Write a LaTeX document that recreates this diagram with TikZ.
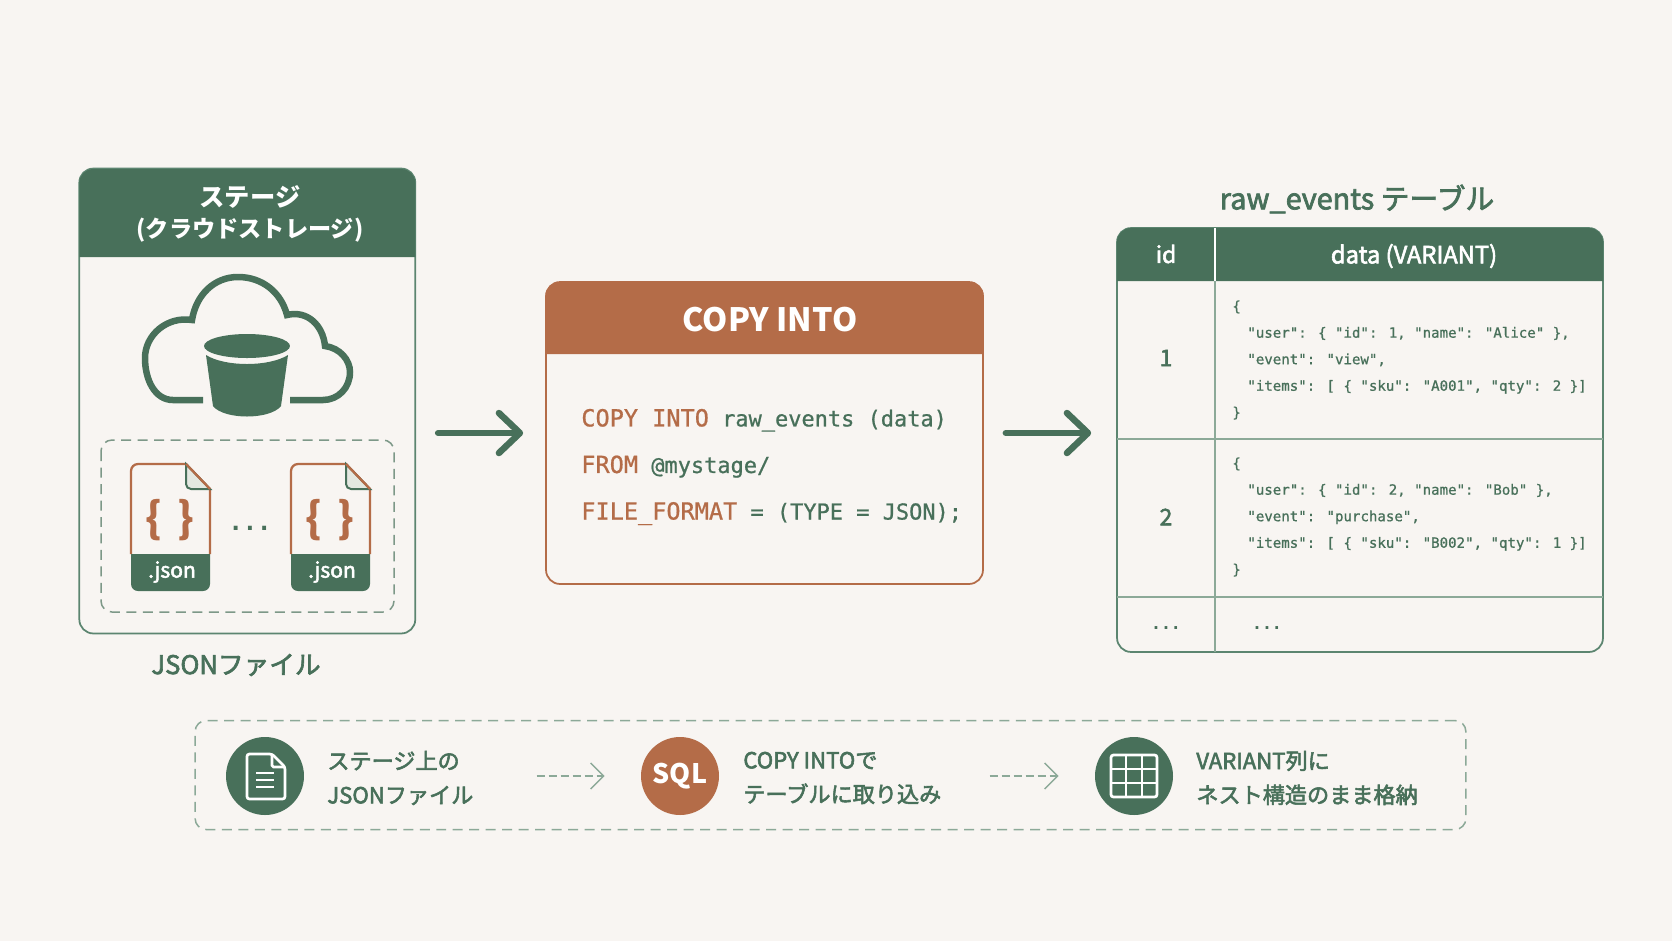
\documentclass[tikz,border=0pt]{standalone}
\usepackage{fontspec}
\setmainfont{Noto Sans CJK JP}
\setmonofont{DejaVu Sans Mono}
\newfontfamily\medfont[FakeBold=2.5]{Noto Sans CJK JP}
\newfontfamily\codefont[FakeBold=0.8]{DejaVu Sans Mono}
\usetikzlibrary{arrows.meta}
\definecolor{paper}{HTML}{F8F5F2}
\definecolor{leaf}{HTML}{48705A}
\definecolor{leafline}{HTML}{5C8570}
\definecolor{leafsoft}{HTML}{8CA998}
\definecolor{clay}{HTML}{B46C48}
\definecolor{foldgrey}{HTML}{E4E8E1}
\tikzset{
  panel/.style={draw=#1,line width=0.035cm,rounded corners=0.28cm,inner sep=0pt},
  bigarrow/.style={draw=leaf,line width=0.13cm,line cap=round,-{Straight Barb[round,length=0.42cm,width=0.8cm]},shorten <=0.44cm,shorten >=#1},
  steparrow/.style={draw=leafsoft,line width=0.03cm,dash pattern=on 0.16cm off 0.08cm,-{Straight Barb[length=0.26cm,width=0.52cm]}},
  stepdisc/.style={circle,fill=#1,minimum size=1.56cm,inner sep=0pt},
  steptext/.style={anchor=west,inner sep=0pt,align=left,text=leaf,font=\medfont\fontsize{12.6}{19.4}\selectfont},
  headtext/.style={inner sep=0pt,text=white,font=\bfseries\fontsize{#1}{#1}\selectfont},
  headmed/.style={inner sep=0pt,text=white,font=\medfont\fontsize{#1}{#1}\selectfont},
  celltext/.style={inner sep=0pt,text=leaf,font=\medfont\fontsize{13}{13}\selectfont},
  jsontext/.style={anchor=west,inner sep=0pt,align=left,text=leaf,font=\codefont\fontsize{8.02}{15.1}\selectfont},
  dotstext/.style={inner sep=0pt,text=leaf,font=\ttfamily\bfseries\fontsize{#1}{#1}\selectfont},
  whiteline/.style={draw=white,line width=0.055cm},
}
\newcommand{\jsonin}{\hspace*{0.3cm}}
\newcommand{\kw}[1]{{\color{clay}\fontsize{13.4}{26.5}\selectfont #1}}
\begin{document}
\begin{tikzpicture}[x=0.02cm,y=-0.02cm]

    \fill[paper] (0,0) rectangle (1672,941);
    \useasboundingbox (0,0) rectangle (1672,941);

    % --------------------------------------------------------- %
    % ------------- stage panel
    % --------------------------------------------------------- %
    \node[panel=leafline,minimum width=6.72cm,minimum height=9.3cm] (stage) at (247.3,401) {};
    \fill[leaf] (79.3,257) [rounded corners=0.28cm] -- (79.3,169) -- (415.3,169) [sharp corners] -- (415.3,257) -- cycle;
    \node[headtext=14.4] (stagetitle) at (250,197) {ステージ};
    \node[headtext=13.2] (stagesub) at (250,230) {(クラウドストレージ)};
    % --- cloud and bucket
    \draw[leaf,line width=0.13cm] (203,400) -- (173,400) .. controls (155,400) and (145,380) .. (145,358)
      .. controls (145,335) and (167,316) .. (192,320) .. controls (196,295) and (214,277) .. (238,277)
      .. controls (262,277) and (281,292) .. (287,315) .. controls (307,310) and (323,325) .. (325,346)
      .. controls (340,348) and (350,360) .. (350,372) .. controls (350,388) and (338,400) .. (323,400) -- (290,400);
    \fill[leaf] (247,346) ellipse [x radius=0.86cm,y radius=0.24cm];
    \fill[leaf] (206,355) .. controls (225,367) and (269,367) .. (288,355) -- (281,406)
      .. controls (270,420) and (224,420) .. (213,406) -- cycle;
    % --- json files
    \draw[leaf!70!paper,line width=0.03cm,dash pattern=on 0.2cm off 0.13cm,rounded corners=0.22cm] (101,440) rectangle (394,612);
    \foreach \fx/\fname in {0/a,160/b}{
      \begin{scope}[shift={(\fx,0)}]
        \draw[clay,line width=0.045cm] (131,554) [rounded corners=0.14cm] -- (131,464) [sharp corners] -- (186,464) -- (210,489) -- (210,554);
        \filldraw[fill=foldgrey,draw=leaf,line width=0.04cm] (186,464) [rounded corners=0.1cm] -- (186,489) [sharp corners] -- (210,489) -- cycle;
        \draw[clay,line width=0.045cm] (186,464) -- (210,489);
        \fill[leaf] (131,554) [rounded corners=0.14cm] -- (131,591) -- (210,591) [sharp corners] -- (210,554) -- cycle;
        \node[inner sep=0pt,text=clay,font=\bfseries\fontsize{24}{24}\selectfont] (brace\fname) at (170,520) {\{\hspace{0.3cm}\}};
        \node[headmed=12] (json\fname) at (172,572) {.json};
      \end{scope}
    }
    \node[dotstext=13.5] (filedots) at (250,528) {...};
    \node[inner sep=0pt,text=leaf,font=\medfont\fontsize{14.6}{14.6}\selectfont] (stagecap) at (236,665) {JSONファイル};

    % --------------------------------------------------------- %
    % ------------- copy panel
    % --------------------------------------------------------- %
    \node[panel=clay,minimum width=8.74cm,minimum height=6.04cm] (copybox) at (764.5,433) {};
    \fill[clay] (545.5,354) [rounded corners=0.28cm] -- (545.5,282) -- (983.5,282) [sharp corners] -- (983.5,354) -- cycle;
    \node[headtext=18.3] (copytitle) at (770,320) {COPY INTO};
    \node[anchor=west,inner sep=0pt,align=left,text=leaf,font=\codefont\fontsize{12.5}{26.5}\selectfont] (copycode) at (581,467)
      {\kw{COPY INTO} raw\_events (data)\\ \kw{FROM} @mystage/\\ \kw{FILE\_FORMAT} = (TYPE = JSON);};

    % --------------------------------------------------------- %
    % ------------- table
    % --------------------------------------------------------- %
    \node[inner sep=0pt,text=leaf,font=\medfont\fontsize{16.4}{16.4}\selectfont] (tabletitle) at (1357,199) {raw\_events テーブル};
    \node[panel=leafline,minimum width=9.72cm,minimum height=8.48cm] (tablebox) at (1360,440) {};
    \fill[leaf] (1117,281) [rounded corners=0.28cm] -- (1117,228) -- (1603,228) [sharp corners] -- (1603,281) -- cycle;
    \draw[white,line width=0.03cm] (1215,228) -- (1215,281);
    \draw[leafsoft,line width=0.04cm] (1215,281) -- (1215,652);
    \draw[leafsoft,line width=0.04cm] (1117,439) -- (1603,439);
    \draw[leafsoft,line width=0.04cm] (1117,597) -- (1603,597);
    \node[headmed=13] (headid) at (1166,254) {id};
    \node[headmed=13.5] (headdata) at (1414,256) {data (VARIANT)};
    \node[celltext] (rowone) at (1166,358) {1};
    \node[celltext] (rowtwo) at (1166,517) {2};
    \node[jsontext] (jsonone) at (1232,360)
      {\{\\ \jsonin"user": \{ "id": 1, "name": "Alice" \},\\ \jsonin"event": "view",\\ \jsonin"items": [ \{ "sku": "A001", "qty": 2 \}]\\ \}};
    \node[jsontext] (jsontwo) at (1232,517)
      {\{\\ \jsonin"user": \{ "id": 2, "name": "Bob" \},\\ \jsonin"event": "purchase",\\ \jsonin"items": [ \{ "sku": "B002", "qty": 1 \}]\\ \}};
    \node[dotstext=9.4] (moreid) at (1166,628) {...};
    \node[dotstext=9.4] (moredata) at (1267,628) {...};

    % --------------------------------------------------------- %
    % ------------- main arrows
    % --------------------------------------------------------- %
    \draw[bigarrow=0.44cm] (stage.east |- copybox.west) -- (copybox.west);
    \draw[bigarrow=0.5cm] (copybox.east) -- (tablebox.west |- copybox.east);

    % --------------------------------------------------------- %
    % ------------- summary strip
    % --------------------------------------------------------- %
    \node[draw=leafsoft,line width=0.03cm,dash pattern=on 0.2cm off 0.13cm,rounded corners=0.22cm,inner sep=0pt,minimum width=25.42cm,minimum height=2.18cm] (strip) at (830.5,775) {};
    % --- step 1
    \node[stepdisc=leaf] (stepone) at (265,776) {};
    \draw[whiteline,rounded corners=0.05cm] (272,754) -- (247,754) -- (247,799) -- (285,799) -- (285,767) -- cycle;
    \draw[whiteline,rounded corners=0.03cm] (272,754) -- (272,767) -- (285,767);
    \foreach \ly in {773,780,787}{
      \draw[whiteline] (256,\ly) -- (274,\ly);
    }
    \node[steptext] (textone) at (327,778) {ステージ上の\\JSONファイル};
    % --- step 2
    \node[stepdisc=clay,text=white,font=\bfseries\fontsize{15.3}{15.3}\selectfont] (steptwo) at (680,776) {SQL};
    \node[steptext] (texttwo) at (743,778) {COPY INTOで\\テーブルに取り込み};
    % --- step 3
    \node[stepdisc=leaf] (stepthree) at (1134,776) {};
    \draw[whiteline,rounded corners=0.05cm] (1111,755) rectangle (1157,797);
    \foreach \lx in {1126,1142}{
      \draw[whiteline] (\lx,755) -- (\lx,797);
    }
    \foreach \ly in {769,783}{
      \draw[whiteline] (1111,\ly) -- (1157,\ly);
    }
    \node[steptext] (textthree) at (1196,778) {VARIANT列に\\ネスト構造のまま格納};
    % --- step arrows
    \draw[steparrow,shorten <=1.26cm,shorten >=0.72cm] (textone.east |- stepone) -- (steptwo.west);
    \draw[steparrow,shorten <=0.96cm,shorten >=0.72cm] (texttwo.east |- steptwo) -- (stepthree.west);

  \end{tikzpicture}
\end{document}
